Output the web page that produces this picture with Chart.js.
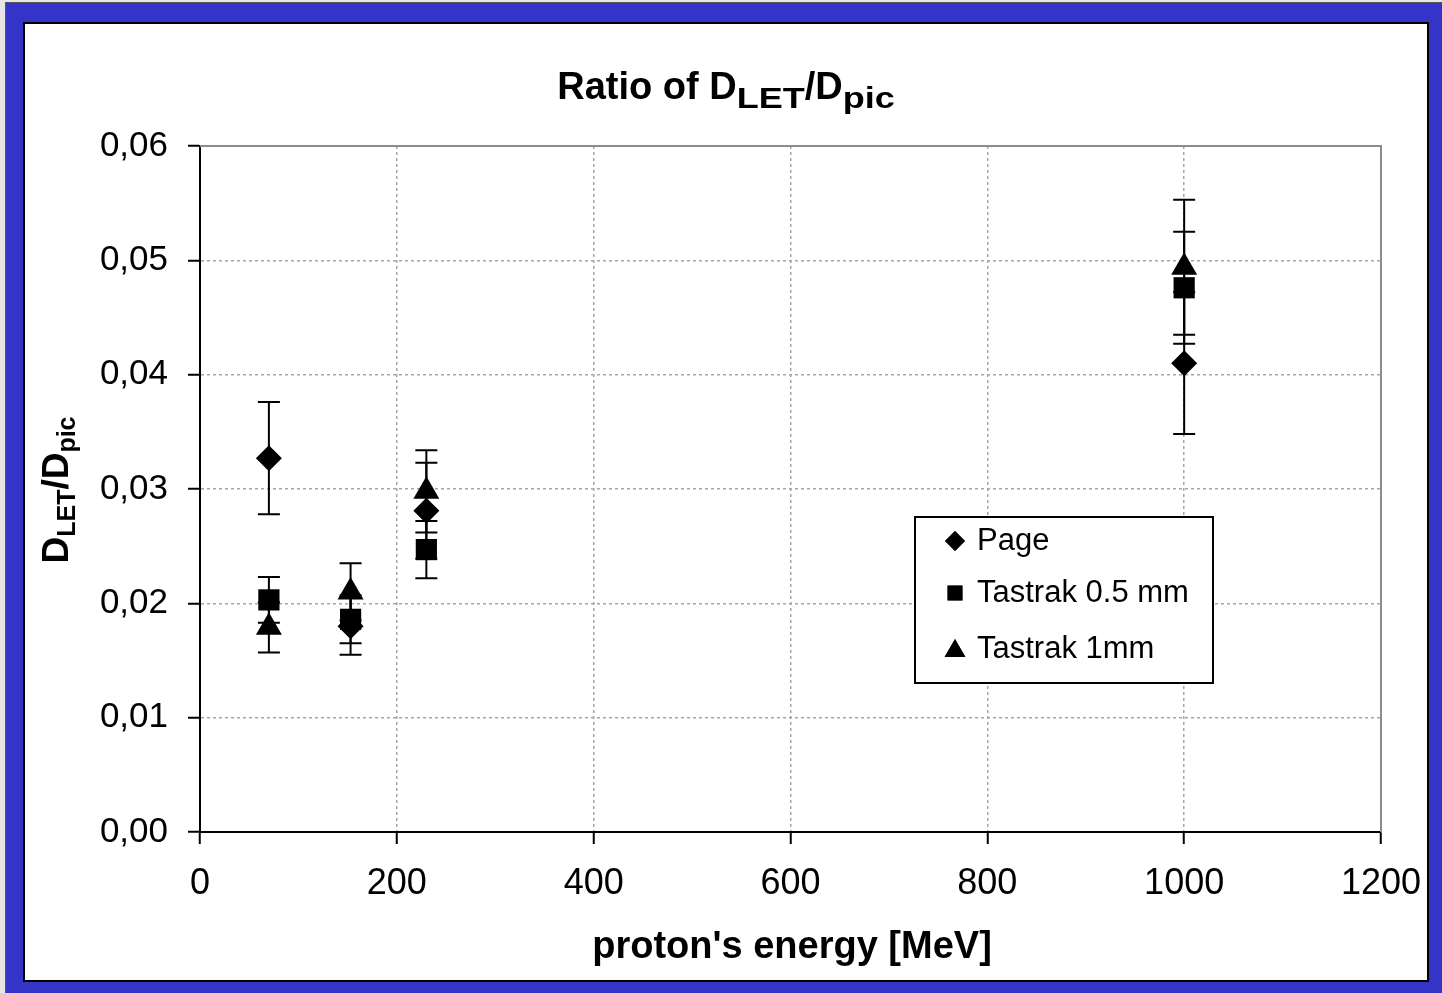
<!DOCTYPE html>
<html lang="en">
<head>
    <meta charset="UTF-8">
    <title>Ratio of DLET/Dpic</title>
    <style>
        body {
            margin: 0;
            background: #e6e6e6;
            overflow: hidden;
            font-family: Arial, "Liberation Sans", sans-serif;
        }
        #frame {
            position: absolute;
            left: 5px;
            top: 2px;
            width: 1437px;
            height: 991px;
            background: #3434c8;
            border-left: 1px solid #555;
            border-top: 1px solid #555;
            box-sizing: border-box;
        }
        #sheet {
            position: absolute;
            left: 17px;
            top: 19px;
            width: 1402px;
            height: 956px;
            background: #fff;
            border: 2px solid #000;
        }
        canvas {
            display: block;
        }
    </style>
</head>
<body>
<div id="frame">
    <div id="sheet">
        <canvas id="ratioChart" width="1402" height="956"></canvas>
    </div>
</div>
<script src="https://cdn.jsdelivr.net/npm/chart.js"></script>
<script>
// proton energies [MeV]
const energies = [70, 153, 230, 1000];

// D_LET / D_pic ratios with error bar half-widths
const pageRatio = [0.0327, 0.0180, 0.0281, 0.0410];
const pageErr = [0.0049, 0.0025, 0.0042, 0.0062];
const tastrak05Ratio = [0.0203, 0.0186, 0.0247, 0.0476];
const tastrak05Err = [0.0020, 0.0021, 0.0025, 0.0049];
const tastrak1Ratio = [0.0179, 0.0210, 0.0298, 0.0494];
const tastrak1Err = [0.0022, 0.0025, 0.0036, 0.0059];

const seriesNames = ["Page", "Tastrak 0.5 mm", "Tastrak 1mm"];
const seriesStyles = ["rectRot", "rect", "triangle"];

const FONT = 'Arial, "Liberation Sans", sans-serif';
Chart.defaults.font.family = FONT;
Chart.defaults.color = "#000";

function makePoints(ys) {
    return energies.map((x, i) => ({ x: x, y: ys[i] }));
}

// draws text made of normal and subscript pieces
function drawRich(ctx, parts, cx, baseline) {
    let total = 0;
    parts.forEach(p => {
        ctx.font = "bold " + p.size + "px " + FONT;
        p.w = ctx.measureText(p.t).width * (p.sx || 1);
        total += p.w;
    });
    let x = cx - total / 2;
    ctx.textAlign = "left";
    ctx.textBaseline = "alphabetic";
    parts.forEach(p => {
        ctx.font = "bold " + p.size + "px " + FONT;
        ctx.save();
        ctx.translate(x, baseline + (p.dy || 0));
        ctx.scale(p.sx || 1, 1);
        ctx.fillText(p.t, 0, 0);
        ctx.restore();
        x += p.w;
    });
}

const errorBars = {
    id: "errorBars",
    beforeDatasetsDraw(chart) {
        const { ctx, chartArea, scales: { x, y } } = chart;
        ctx.save();
        // solid top and right frame of the plot area
        ctx.strokeStyle = "#8c8c8c";
        ctx.lineWidth = 2;
        ctx.beginPath();
        ctx.moveTo(chartArea.left, chartArea.top);
        ctx.lineTo(chartArea.right, chartArea.top);
        ctx.lineTo(chartArea.right, chartArea.bottom);
        ctx.stroke();

        ctx.strokeStyle = "#000";
        ctx.lineWidth = 2;
        chart.data.datasets.forEach(ds => {
            ds.data.forEach((p, i) => {
                const px = x.getPixelForValue(p.x);
                const top = y.getPixelForValue(p.y + ds.errors[i]);
                const bot = y.getPixelForValue(p.y - ds.errors[i]);
                ctx.beginPath();
                ctx.moveTo(px, top);
                ctx.lineTo(px, bot);
                ctx.moveTo(px - 11, top);
                ctx.lineTo(px + 11, top);
                ctx.moveTo(px - 11, bot);
                ctx.lineTo(px + 11, bot);
                ctx.stroke();
            });
        });
        ctx.restore();
    }
};

const labels = {
    id: "labels",
    afterDraw(chart) {
        const ctx = chart.ctx;
        ctx.save();
        ctx.fillStyle = "#000";

        // title
        drawRich(ctx, [
            { t: "Ratio of D", size: 38 },
            { t: "LET", size: 30, dy: 9, sx: 1.2 },
            { t: "/D", size: 38 },
            { t: "pic", size: 30, dy: 9, sx: 1.2 }
        ], chart.width / 2, 75);

        // x axis title
        ctx.font = "bold 38px " + FONT;
        ctx.textAlign = "center";
        ctx.textBaseline = "alphabetic";
        ctx.fillText("proton's energy [MeV]", 767, 934);

        // y axis title
        ctx.save();
        ctx.translate(43, 466);
        ctx.rotate(-Math.PI / 2);
        drawRich(ctx, [
            { t: "D", size: 37 },
            { t: "LET", size: 25, dy: 7 },
            { t: "/D", size: 37 },
            { t: "pic", size: 25, dy: 7 }
        ], 0, 0);
        ctx.restore();

        // legend box
        ctx.fillStyle = "#fff";
        ctx.fillRect(890, 493, 298, 166);
        ctx.strokeStyle = "#000";
        ctx.lineWidth = 2;
        ctx.strokeRect(890, 493, 298, 166);
        const rows = [517, 569, 625];
        const legendSizes = [10, 10.5, 12];
        ctx.fillStyle = "#000";
        ctx.font = "31px " + FONT;
        ctx.textAlign = "left";
        ctx.textBaseline = "middle";
        chart.data.datasets.forEach((ds, i) => {
            Chart.helpers.drawPoint(ctx, {
                pointStyle: seriesStyles[i],
                radius: legendSizes[i],
                rotation: 0,
                borderWidth: 0
            }, 930, rows[i] + (i === 2 ? 2 : 0));
            ctx.fill();
            ctx.fillText(ds.label, 952, rows[i]);
        });
        ctx.restore();
    }
};

const errorSets = [pageErr, tastrak05Err, tastrak1Err];
const ratioSets = [pageRatio, tastrak05Ratio, tastrak1Ratio];
const markerRadius = [13, 15, 15];

const datasets = seriesNames.map((name, i) => ({
    label: name,
    data: makePoints(ratioSets[i]),
    errors: errorSets[i],
    pointStyle: seriesStyles[i],
    pointRadius: markerRadius[i],
    pointHoverRadius: markerRadius[i],
    backgroundColor: "#000",
    borderColor: "#000",
    borderWidth: 0,
    showLine: false
}));

new Chart(document.getElementById("ratioChart").getContext("2d"), {
    type: "scatter",
    data: { datasets },
    options: {
        responsive: false,
        animation: false,
        devicePixelRatio: 1,
        layout: { padding: { top: 122, right: 46, left: 0, bottom: 0 } },
        plugins: {
            legend: { display: false },
            title: { display: false },
            tooltip: { enabled: false }
        },
        scales: {
            x: {
                type: "linear",
                min: 0,
                max: 1200,
                afterFit: s => {
                    s.height = 148;
                    s.paddingLeft = 0;
                    s.paddingRight = 0;
                },
                ticks: {
                    stepSize: 200,
                    padding: 18,
                    maxRotation: 0,
                    font: { size: 36 },
                    color: "#000",
                    callback: v => String(v)
                },
                grid: {
                    color: "#a6a6a6",
                    lineWidth: 1.5,
                    tickLength: 12,
                    tickColor: "#000",
                    tickWidth: 2,
                    tickBorderDash: []
                },
                border: { color: "#000", width: 2, dash: [3, 3] }
            },
            y: {
                type: "linear",
                min: 0,
                max: 0.06,
                afterFit: s => {
                    s.width = 175;
                    s.paddingTop = 0;
                    s.paddingBottom = 0;
                },
                ticks: {
                    stepSize: 0.01,
                    padding: 20,
                    font: { size: 35 },
                    color: "#000",
                    callback: v => v.toFixed(2).replace(".", ",")
                },
                grid: {
                    color: "#a6a6a6",
                    lineWidth: 1.5,
                    tickLength: 12,
                    tickColor: "#000",
                    tickWidth: 2,
                    tickBorderDash: []
                },
                border: { color: "#000", width: 2, dash: [3, 3] }
            }
        }
    },
    plugins: [errorBars, labels]
});
</script>
</body>
</html>
